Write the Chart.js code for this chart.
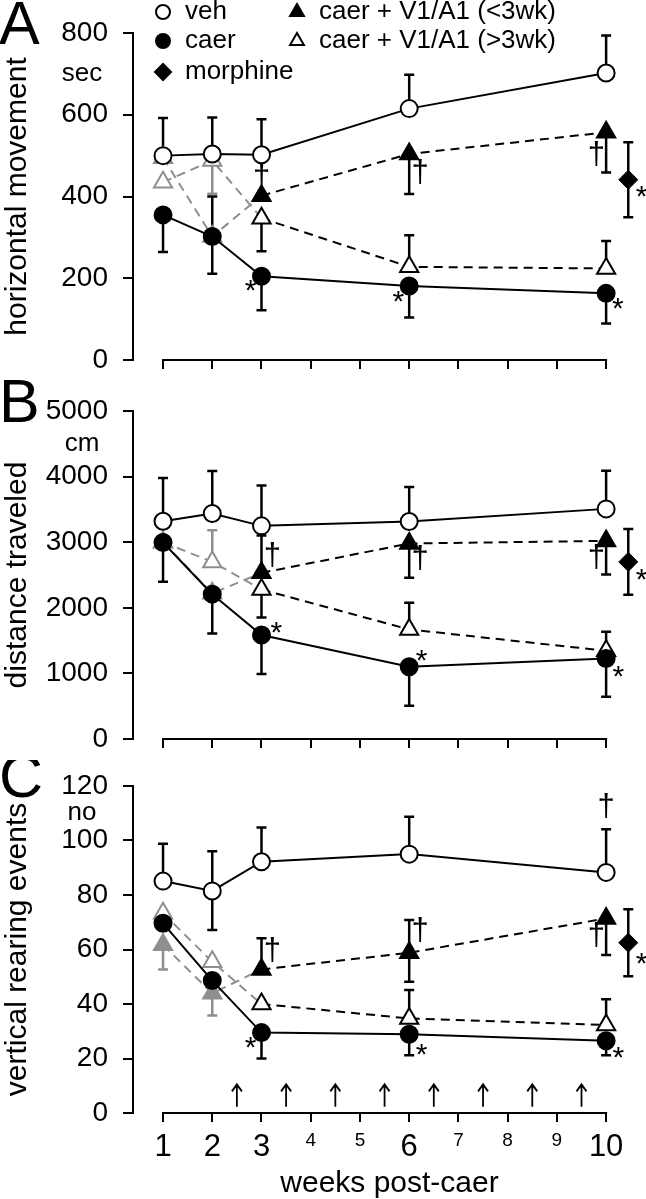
<!DOCTYPE html>
<html>
<head>
<meta charset="utf-8">
<script src="https://cdn.jsdelivr.net/npm/chart.js@4.4.1/dist/chart.umd.min.js"></script>
<style>
  html, body { margin: 0; padding: 0; background: #fff; }
  canvas { display: block; }
</style>
</head>
<body>
<canvas id="panelA" width="646" height="380"></canvas>
<canvas id="panelB" width="646" height="380"></canvas>
<canvas id="panelC" width="646" height="439"></canvas>
<script>
const FONT = '"Liberation Sans", Arial, Helvetica, sans-serif'
const GRAY = '#8f8f8f'

const weeks = [1, 2, 3, 6, 10]
const morphWeek = 10.45
const tickWeeks = [1, 2, 3, 4, 5, 6, 7, 8, 9, 10]
const bigWeeks = [1, 2, 3, 6, 10]
const arrowWeeks = [2.5, 3.5, 4.5, 5.5, 6.5, 7.5, 8.5, 9.5]

// A – horizontal movement (sec)
const vehA = [500, 504, 502, 615, 702]
const vehA_up = [92, 89, 87, 83, 92]
const caerA = [355, 302, 205, 181, 163]
const caerA_up = [null, 98, null, null, null]
const caerA_down = [91, 91, 83, 77, 74]
const lt3A = [495, 302, 402, 504, 557]
const lt3A_down = [null, null, null, 98, 98]
const gt3A = [435, 488, 347, 228, 224]
const gt3A_up = [null, null, null, 77, 67]
const gt3A_down = [null, 81, 81, null, null]
const morphA = 441
const morphA_err = 92

// B – distance traveled (cm)
const vehB = [3320, 3437, 3249, 3315, 3508]
const vehB_up = [660, 649, 614, 528, 583]
const caerB = [2995, 2208, 1584, 1102, 1228]
const caerB_down = [599, 599, 594, 594, 583]
const lt3B = [3000, 2220, 2533, 2980, 3020]
const lt3B_up = [null, null, 568, null, null]
const lt3B_down = [null, null, null, 523, 512]
const gt3B = [3000, 2700, 2279, 1670, 1345]
const gt3B_up = [null, 483, null, 406, 290]
const gt3B_down = [null, null, 426, null, null]
const morphB = 2700
const morphB_err = 500

// C – vertical rearing events (no)
const vehC = [85.1, 81.5, 92.2, 95.0, 88.3]
const vehC_up = [13.7, 14.6, 12.6, 13.7, 15.8]
const vehC_down = [null, 14.3, null, null, null]
const caerC = [69.6, 48.6, 29.5, 28.9, 26.5]
const caerC_down = [null, null, 9.5, 7.7, 5.3]
const lt3C = [61.7, 43.9, 52.7, 58.8, 71.4]
const lt3C_up = [null, null, 11.4, 12, null]
const lt3C_down = [9, 8.1, null, 10.6, 13.4]
const gt3C = [73.3, 55.5, 40.0, 34.7, 32.3]
const gt3C_up = [null, null, null, 10.4, 9.4]
const morphC = 62.5
const morphC_err = 12.3

// significance marks [week, value]
const starsA = [[2.78, 183], [5.78, 158], [10.24, 140], [10.72, 415]]
const daggersA = [[3, 445], [6.22, 456], [9.8, 500]]
const starsB = [[3.3, 1710], [6.25, 1290], [10.25, 1040], [10.72, 2520]]
const daggersB = [[3.22, 2780], [6.22, 2730], [9.8, 2750]]
const starsC = [[2.78, 26], [6.25, 23.5], [10.25, 22.5], [10.72, 57]]
const daggersC = [[3.22, 59.2], [6.22, 66.5], [9.8, 64.7], [10, 112]]

const grayFirstTwo = i => (i < 2 ? GRAY : '#000')

function line(label, ys, up, down, o) {
  return {
    label,
    data: ys.map((y, i) => ({ x: weeks[i], y })),
    errUp: up, errDown: down,
    barColors: ys.map((_, i) => (o.grayEarly ? grayFirstTwo(i) : '#000')),
    borderColor: '#000',
    borderWidth: 2,
    borderDash: o.dashed ? [9, 6] : [],
    segment: o.grayEarly ? { borderColor: c => (c.p0DataIndex < 2 ? GRAY : '#000') } : {},
    pointStyle: o.style,
    pointRadius: o.r,
    pointBorderWidth: 2,
    pointBorderColor: ys.map((_, i) => (o.grayEarly ? grayFirstTwo(i) : '#000')),
    pointBackgroundColor: ys.map((_, i) => (o.filled ? (o.grayEarly ? grayFirstTwo(i) : '#000') : '#fff')),
    tension: 0,
    order: o.order
  }
}

function morph(v, err) {
  return {
    label: 'morphine',
    data: [{ x: morphWeek, y: v }],
    errUp: [err], errDown: [err], barColors: ['#000'],
    showLine: false, pointStyle: 'rectRot', pointRadius: 9.5,
    pointBackgroundColor: '#000', pointBorderColor: '#000', pointBorderWidth: 1,
    order: 4, clip: false
  }
}

function panelSets(veh, vehUp, vehDown, caer, caerUp, caerDown, lt3, lt3Up, lt3Down, gt3, gt3Up, gt3Down, m, mErr) {
  return [
    line('veh', veh, vehUp, vehDown, { style: 'circle', r: 8.5, filled: false, order: 0 }),
    line('caer', caer, caerUp, caerDown, { style: 'circle', r: 8.5, filled: true, order: 1 }),
    line('caer + V1/A1 (<3wk)', lt3, lt3Up, lt3Down, { style: 'triangle', r: 10.5, filled: true, dashed: true, grayEarly: true, order: 2 }),
    line('caer + V1/A1 (>3wk)', gt3, gt3Up, gt3Down, { style: 'triangle', r: 10.5, filled: false, dashed: true, grayEarly: true, order: 3 }),
    morph(m, mErr)
  ]
}

const errorBars = {
  id: 'errorBars',
  beforeDatasetsDraw(chart) {
    const { ctx, scales: { y } } = chart
    const metas = chart.getSortedVisibleDatasetMetas().slice().reverse()
    ctx.save()
    ctx.lineWidth = 2.5
    metas.forEach(meta => {
      const ds = chart.data.datasets[meta.index]
      meta.data.forEach((pt, i) => {
        const v = ds.data[i].y
        ;[[ds.errUp, 1], [ds.errDown, -1]].forEach(([arr, sign]) => {
          const e = arr && arr[i]
          if (e == null) return
          const yEnd = y.getPixelForValue(v + sign * e)
          ctx.strokeStyle = ds.barColors[i]
          ctx.beginPath()
          ctx.moveTo(pt.x, pt.y)
          ctx.lineTo(pt.x, yEnd)
          ctx.moveTo(pt.x - 5, yEnd)
          ctx.lineTo(pt.x + 5, yEnd)
          ctx.stroke()
        })
      })
    })
    ctx.restore()
  }
}

function marker(ctx, style, x, y, r, filled) {
  ctx.fillStyle = filled ? '#000' : '#fff'
  ctx.strokeStyle = '#000'
  ctx.lineWidth = 2
  Chart.helpers.drawPoint(ctx, { pointStyle: style, radius: r, rotation: 0, borderWidth: 2 }, x, y)
}

const annotate = {
  id: 'annotate',
  afterDatasetsDraw(chart, args, o) {
    const { ctx, chartArea, scales: { x, y } } = chart
    ctx.save()
    // x axis line only spans week 1..10
    ctx.strokeStyle = '#000'
    ctx.lineWidth = 2
    ctx.beginPath()
    ctx.moveTo(x.getPixelForValue(1) - 1, chartArea.bottom)
    ctx.lineTo(x.getPixelForValue(10) + 1, chartArea.bottom)
    ctx.stroke()

    ctx.fillStyle = '#000'
    ctx.font = `61px ${FONT}`
    ctx.textAlign = 'left'
    ctx.textBaseline = 'alphabetic'
    ctx.fillText(o.letter, -1, chartArea.top + 11)

    ctx.font = `26px ${FONT}`
    ctx.textAlign = 'center'
    ctx.textBaseline = 'middle'
    ctx.fillText(o.unit, 82, y.getPixelForValue(o.unitAt))

    ctx.font = `30px ${FONT}`
    o.stars.forEach(([w, v]) => ctx.fillText('*', x.getPixelForValue(w), y.getPixelForValue(v) + 7))
    ctx.font = `31px ${FONT}`
    o.daggers.forEach(([w, v]) => ctx.fillText('\u2020', x.getPixelForValue(w), y.getPixelForValue(v)))

    if (o.arrows) {
      ctx.lineWidth = 1.8
      o.arrows.forEach(w => {
        const px = x.getPixelForValue(w)
        const top = y.getPixelForValue(10.5)
        ctx.beginPath()
        ctx.moveTo(px, y.getPixelForValue(2.3))
        ctx.lineTo(px, top)
        ctx.moveTo(px - 5, top + 7)
        ctx.lineTo(px, top)
        ctx.lineTo(px + 5, top + 7)
        ctx.stroke()
      })
    }

    if (o.legend) {
      ctx.font = `26px ${FONT}`
      ctx.textAlign = 'left'
      const rows = [chartArea.top - 21, chartArea.top + 8, chartArea.top + 39]
      const items = [
        [163, rows[0], 'circle', 7, false, 'veh'],
        [163, rows[1], 'circle', 7, true, 'caer'],
        [163, rows[2], 'rectRot', 8, true, 'morphine'],
        [297, rows[0], 'triangle', 8, true, 'caer + V1/A1 (<3wk)'],
        [297, rows[1], 'triangle', 8, false, 'caer + V1/A1 (>3wk)']
      ]
      items.forEach(([mx, my, st, r, f, t]) => {
        marker(ctx, st, mx, my, r, f)
        ctx.fillStyle = '#000'
        ctx.fillText(t, mx + 22, my)
      })
    }
    ctx.restore()
  }
}

function makeChart(id, datasets, p) {
  return new Chart(document.getElementById(id), {
    type: 'line',
    data: { datasets },
    options: {
      responsive: false,
      animation: false,
      events: [],
      layout: { autoPadding: false, padding: { top: p.top, left: 0, right: 0, bottom: 0 } },
      plugins: {
        legend: { display: false },
        tooltip: { enabled: false },
        annotate: p.notes
      },
      scales: {
        x: {
          type: 'linear',
          min: 0.39,
          max: 10.81,
          afterBuildTicks: s => { s.ticks = tickWeeks.map(v => ({ value: v })) },
          afterFit: s => { s.height = p.xHeight; s.paddingLeft = 0; s.paddingRight = 0 },
          border: { display: false },
          grid: { drawOnChartArea: false, drawTicks: true, tickLength: 9, color: '#000', lineWidth: 2 },
          ticks: {
            display: p.showX,
            padding: 7,
            color: '#000',
            autoSkip: false,
            maxRotation: 0,
            callback: v => String(v),
            font: c => ({ family: FONT, size: bigWeeks.includes(c.tick && c.tick.value) ? 31 : 19 })
          },
          title: {
            display: p.showX,
            text: 'weeks post-caer',
            color: '#000',
            font: { family: FONT, size: 30, lineHeight: 1 },
            padding: { top: 0, bottom: 0 }
          }
        },
        y: {
          min: 0,
          max: p.max,
          afterFit: s => { s.width = 133; s.paddingTop = 0; s.paddingBottom = 0 },
          border: { display: true, color: '#000', width: 2 },
          grid: { drawOnChartArea: false, drawTicks: true, tickLength: 10, color: '#000', lineWidth: 2 },
          ticks: { stepSize: p.step, padding: 15, color: '#000', font: { family: FONT, size: 28 }, callback: v => String(v) },
          title: {
            display: true,
            text: p.title,
            color: '#000',
            font: { family: FONT, size: 30 },
            padding: { top: 0, bottom: 0 }
          }
        }
      }
    },
    plugins: [errorBars, annotate]
  })
}

makeChart('panelA',
  panelSets(vehA, vehA_up, null, caerA, caerA_up, caerA_down, lt3A, null, lt3A_down, gt3A, gt3A_up, gt3A_down, morphA, morphA_err),
  { top: 33, xHeight: 20, showX: false, max: 800, step: 200, title: 'horizontal movement',
    notes: { letter: 'A', unit: 'sec', unitAt: 700, stars: starsA, daggers: daggersA, legend: true } })

makeChart('panelB',
  panelSets(vehB, vehB_up, null, caerB, null, caerB_down, lt3B, lt3B_up, lt3B_down, gt3B, gt3B_up, gt3B_down, morphB, morphB_err),
  { top: 31, xHeight: 21, showX: false, max: 5000, step: 1000, title: 'distance traveled',
    notes: { letter: 'B', unit: 'cm', unitAt: 4500, stars: starsB, daggers: daggersB } })

makeChart('panelC',
  panelSets(vehC, vehC_up, vehC_down, caerC, null, caerC_down, lt3C, lt3C_up, lt3C_down, gt3C, gt3C_up, null, morphC, morphC_err),
  { top: 26, xHeight: 86, showX: true, max: 120, step: 20, title: 'vertical rearing events',
    notes: { letter: 'C', unit: 'no', unitAt: 110, stars: starsC, daggers: daggersC, arrows: arrowWeeks } })
</script>
</body>
</html>
